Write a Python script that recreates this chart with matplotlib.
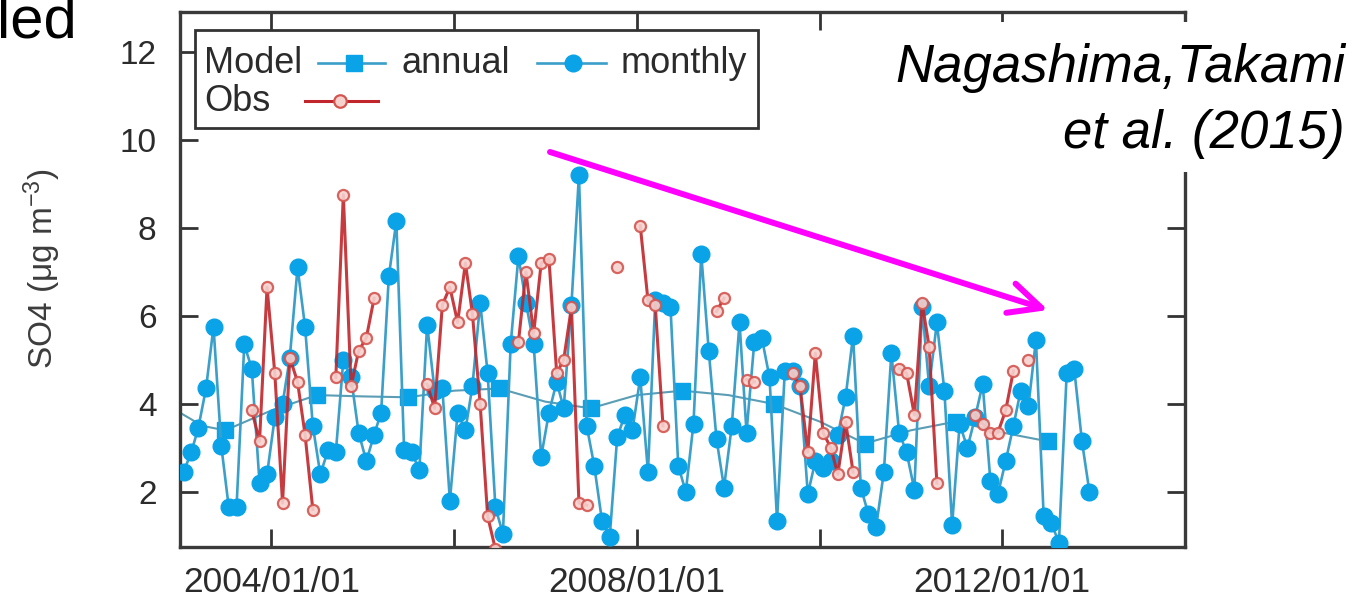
import matplotlib.pyplot as plt
import numpy as np
import pandas as pd
from matplotlib.lines import Line2D
from matplotlib.patches import Rectangle

plt.rcParams['font.family'] = ['Liberation Sans', 'DejaVu Sans']
plt.rcParams['mathtext.default'] = 'regular'

W, H = 1369, 613
nan = np.nan

# monthly model values, 2003/01 - 2012/12
months = pd.date_range('2003-01-01', periods=120, freq='MS') + pd.Timedelta(days=14)
monthly = [
    2.45, 2.9, 3.45, 4.35, 5.75, 3.05, 1.65, 1.65, 5.35, 4.8, 2.2, 2.4,
    3.7, 4.0, 5.05, 7.1, 5.75, 3.5, 2.4, 2.95, 2.9, 5.0, 4.6, 3.35,
    2.7, 3.3, 3.8, 6.9, 8.15, 2.95, 2.9, 2.5, 5.8, 4.3, 4.35, 1.8,
    3.8, 3.4, 4.4, 6.3, 4.7, 1.65, 1.05, 5.35, 7.35, 6.3, 5.35, 2.8,
    3.8, 4.5, 3.9, 6.25, 9.2, 3.5, 2.6, 1.35, 0.98, 3.25, 3.75, 3.4,
    4.6, 2.45, 6.35, 6.3, 6.2, 2.6, 2.0, 3.55, 7.4, 5.2, 3.2, 2.1,
    3.5, 5.85, 3.35, 5.4, 5.5, 4.6, 1.35, 4.75, 4.75, 4.4, 1.95, 2.7,
    2.55, 2.7, 3.3, 4.15, 5.55, 2.1, 1.5, 1.2, 2.45, 5.15, 3.35, 2.9,
    2.05, 6.2, 4.4, 5.85, 4.3, 1.25, 3.55, 3.0, 3.7, 4.45, 2.25, 1.95,
    2.7, 3.5, 4.3, 3.95, 5.45, 1.45, 1.3, 0.85, 4.7, 4.8, 3.15, 2.0,
]

# observations (gaps = no data)
obs = [
    nan, nan, nan, nan, nan, nan, nan, nan, nan, 3.85, 3.15, 6.65,
    4.7, 1.75, 5.05, 4.5, 3.3, 1.6, nan, nan, 4.6, 8.75, 4.4, 5.2,
    5.5, 6.4, nan, nan, nan, nan, nan, nan, 4.45, 3.9, 6.25, 6.65,
    5.85, 7.2, 6.05, 4.0, 1.45, 0.7, nan, nan, 5.4, 7.0, 5.6, 7.2,
    7.3, 4.7, 5.0, 6.2, 1.75, 1.7, nan, nan, nan, 7.1, nan, nan,
    8.05, 6.35, 6.25, 3.5, nan, nan, nan, nan, nan, nan, 6.1, 6.4,
    nan, nan, 4.55, 4.5, nan, nan, nan, nan, 4.7, 4.4, 2.9, 5.15,
    3.35, 3.0, 2.4, 3.6, 2.45, nan, nan, nan, nan, nan, 4.8, 4.7,
    3.75, 6.3, 5.3, 2.2, nan, nan, nan, nan, 3.75, 3.55, 3.35, 3.35,
    3.85, 4.75, nan, 5.0, nan, nan, nan, nan, nan, nan, nan, nan,
]

# annual model means (mid-year squares)
years = pd.to_datetime([f'{y}-07-01' for y in range(2003, 2013)])
annual = [3.4, 4.2, 4.15, 4.35, 3.9, 4.3, 4.0, 3.1, 3.6, 3.15]

# annual curve as drawn (read every half year)
curve_dates = pd.to_datetime(['2003-01-01', '2003-04-01', '2003-07-01', '2004-01-01',
                              '2004-07-01', '2005-01-01', '2005-07-01', '2006-01-01',
                              '2006-07-01', '2007-01-01', '2007-07-01', '2008-01-01',
                              '2008-07-01', '2009-01-01', '2009-07-01', '2010-01-01',
                              '2010-07-01', '2011-01-01', '2011-07-01', '2012-01-01',
                              '2012-07-01'])
curve = [3.8, 3.5, 3.4, 3.85, 4.2, 4.17, 4.15, 4.3, 4.35, 4.05, 3.9, 4.2,
         4.3, 4.2, 4.0, 3.6, 3.1, 3.4, 3.6, 3.35, 3.15]

xticks = pd.to_datetime(['2004-01-01', '2006-01-01', '2008-01-01', '2010-01-01', '2012-01-01'])
xticklabels = ['2004/01/01', '', '2008/01/01', '', '2012/01/01']

blue_line = '#3b9fc9'
blue_fill = '#0aa3e8'
red_line = '#c0262b'
text_col = '#2b2b2b'


def fx(px):
    return px / W


def fy(py):
    return 1 - py / H


fig = plt.figure(figsize=(W / 100, H / 100), dpi=100)
ax = fig.add_axes([fx(180), fy(547), fx(1005), 535 / H])

ax.plot(curve_dates, curve, color='#5a9db5', lw=1.5, zorder=2)
ax.plot(years, annual, 's', color=blue_fill, ms=12, zorder=3)
ax.plot(months, monthly, '-o', color=blue_line, lw=1.9, mfc=blue_fill, mec=blue_fill,
        ms=12, zorder=3)
ax.plot(months, obs, '-o', color=red_line, lw=2.2, mfc='#f6d2ce', mec='#d4544f',
        mew=1.6, ms=8, alpha=0.9, zorder=4)

ax.set_xlim(pd.Timestamp('2003-01-01'), pd.Timestamp('2014-01-01'))
ax.set_ylim(0.75, 12.9)
ax.set_yticks([2, 4, 6, 8, 10, 12])
ax.set_xticks(xticks)
ax.set_xticklabels(xticklabels)
ax.tick_params(direction='in', length=13, width=2, color='#333333',
               top=True, right=True, labelcolor=text_col)
ax.tick_params(axis='x', labelsize=25.5, pad=14)
ax.tick_params(axis='y', labelsize=24, pad=17)
for s in ax.spines.values():
    s.set_linewidth(2.4)
    s.set_color('#3a3a3a')

ax.set_ylabel('SO4 (μg m$^{-3}$)', fontsize=24, color='#3c3c3c')
ax.yaxis.set_label_coords(-0.116, 0.52)

# legend box drawn by hand
fig.add_artist(Rectangle((fx(195), fy(128)), fx(563), 98 / H, transform=fig.transFigure,
                         facecolor='white', edgecolor='#333333', lw=2.0, zorder=5))
fig.text(fx(204), fy(73), 'Model', fontsize=26, color=text_col, zorder=6)
fig.text(fx(402), fy(73), 'annual', fontsize=26, color=text_col, zorder=6)
fig.text(fx(621), fy(73), 'monthly', fontsize=26, color=text_col, zorder=6)
fig.text(fx(204), fy(111), 'Obs', fontsize=26, color=text_col, zorder=6)
fig.add_artist(Line2D([fx(318), fx(385)], [fy(63), fy(63)], transform=fig.transFigure,
                      color=blue_line, lw=1.9, zorder=6))
fig.add_artist(Line2D([fx(354)], [fy(63)], transform=fig.transFigure, marker='s',
                      color=blue_fill, ms=12, zorder=7))
fig.add_artist(Line2D([fx(537), fx(606)], [fy(63), fy(63)], transform=fig.transFigure,
                      color=blue_line, lw=1.9, zorder=6))
fig.add_artist(Line2D([fx(573)], [fy(63)], transform=fig.transFigure, marker='o',
                      color=blue_fill, ms=12, zorder=7))
fig.add_artist(Line2D([fx(305), fx(378)], [fy(101), fy(101)], transform=fig.transFigure,
                      color=red_line, lw=2.2, zorder=6))
fig.add_artist(Line2D([fx(340)], [fy(101)], transform=fig.transFigure, marker='o',
                      mfc='#f6d2ce', mec='#d4544f', mew=1.6, ms=9, zorder=7))

# citation with white backing
fig.add_artist(Rectangle((fx(880), fy(172)), fx(489), 150 / H, transform=fig.transFigure,
                         facecolor='white', edgecolor='none', zorder=5))
fig.text(fx(1345), fy(82), 'Nagashima,Takami', fontsize=38, style='italic',
         ha='right', va='baseline', color='black', zorder=6)
fig.text(fx(1345), fy(148), 'et al. (2015)', fontsize=38, style='italic',
         ha='right', va='baseline', color='black', zorder=6)

fig.text(fx(-3), fy(38), 'led', fontsize=43, ha='left', va='baseline', color='black')

ax.annotate('', xy=(1048, H - 310), xytext=(550, H - 152), xycoords='figure pixels',
            textcoords='figure pixels',
            arrowprops=dict(arrowstyle='->,head_length=1.15,head_width=0.55',
                            color='#ff00ff', lw=4.3, mutation_scale=20,
                            shrinkA=0, shrinkB=0),
            zorder=8)

fig.savefig('out.png', dpi=100)
